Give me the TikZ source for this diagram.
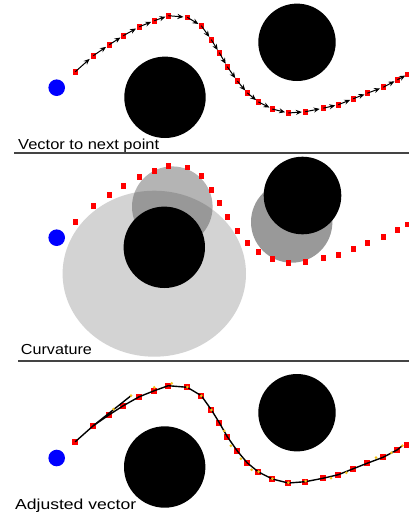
\documentclass[tikz,border=0pt]{standalone}
\usepackage{fontspec}
\usepackage{graphicx}
\setmainfont{Liberation Sans}
\usetikzlibrary{calc,arrows.meta}
\definecolor{sepgray}{HTML}{444444}
\definecolor{dotyellow}{HTML}{F2C21B}
\definecolor{lightdisc}{HTML}{D3D3D3}
\begin{document}
\begin{tikzpicture}[x=1pt,y=-1pt,
  sq/.style={fill=red,draw=none,minimum size=5.6pt,inner sep=0pt,outer sep=0pt},
  sqb/.style={sq,minimum size=6pt},
  arr/.style={-{Stealth[length=6pt,width=5pt]},line width=1pt,black},
  adj/.style={line width=1.4pt,black,line join=round,line cap=round},
  ydot/.style={circle,fill=dotyellow,draw=none,minimum size=3pt,inner sep=0pt},
  obst/.style={circle,fill=black,draw=none,inner sep=0pt},
  start/.style={circle,fill=blue,draw=none,inner sep=0pt,minimum size=16.6pt},
  sep/.style={draw=sepgray,line width=2pt},
  lbl/.style={anchor=base west,inner sep=0pt,font=\fontsize{14.5}{16}\selectfont}]
\useasboundingbox (0,0) rectangle (409,515);

% path points
\foreach \px/\py [count=\i] in {75.3/71.7, 93.3/55.7, 109.3/44.7, 123.3/35.7, 139.3/26.7,
  154.3/20.7, 168.3/15.7, 187.3/17.3, 201.3/25.7, 211.3/39.7, 219.3/52.7, 227.3/66.7,
  237.3/81.0, 247.3/92.9, 258.3/101.9, 272.3/109.0, 288.3/113.0, 305.3/111.7, 323.3/108.2,
  338.3/104.7, 353.3/98.7, 367.3/93.2, 383.3/87.2, 397.3/79.8, 407.3/74.5} {
  \coordinate (A\i) at (\px,\py);
  \coordinate (B\i) at (\px,{\py+150});
  \coordinate (C\i) at (\px,{\py+370});
}

% ---------- panel 1 ----------
\node[start] (s1) at (56.7,87.7) {};
\node[obst,minimum size=81.4pt] (o11) at (165,97.3) {};
\node[obst,minimum size=77.4pt] (o12) at (297,42.3) {};
\foreach \i in {1,...,25} { \node[sq] (sa\i) at (A\i) {}; }
\foreach \i in {1,...,24} {
  \pgfmathtruncatemacro{\j}{\i+1}
  \draw[arr] (A\i) -- ($(A\i)!0.8!(A\j)$);
}
\node[lbl] (t1) at (18,149) {\resizebox{141pt}{\height}{Vector to next point}};
\coordinate (l1a) at (14,152.5);
\coordinate (l1b) at (409,152.5);
\draw[sep] (l1a) -- (l1b);

% ---------- panel 2 ----------
\node[start] (s2) at (56.7,237.7) {};
\fill[lightdisc] (154.3,273.7) ellipse [x radius=91.7pt, y radius=83pt];
\fill[black!76,opacity=0.39] (172.3,206.7) circle [radius=40.3pt];
\fill[black!80,opacity=0.5] (291.7,222) circle [radius=40.7pt];
\node[obst,minimum size=81.4pt] (o21) at (164.3,247.3) {};
\node[obst,minimum size=77.6pt] (o22) at (302.5,195.5) {};
\foreach \i in {1,...,25} { \node[sq] (sb\i) at (B\i) {}; }
\node[lbl] (t2) at (20.7,354.5) {\resizebox{71pt}{\height}{Curvature}};
\coordinate (l2a) at (18,361);
\coordinate (l2b) at (409,361);
\draw[sep] (l2a) -- (l2b);

% ---------- panel 3 ----------
\node[start] (s3) at (56.7,458) {};
\node[obst,minimum size=81.4pt] (o31) at (164.7,467) {};
\node[obst,minimum size=77.4pt] (o32) at (297,412.7) {};
\foreach \px/\py [count=\i] in {113.5/409, 131/395.7, 154.2/387.3, 171.7/383.3, 187.3/387,
  201.3/395.8, 211.3/410, 224.2/430.8, 230.9/445.8, 240.8/458.7, 251.7/469.7, 258.7/471.7,
  272.3/478.7, 288.3/482.7, 305.6/481, 331/478, 346.3/472.7, 376/457.7, 391.3/452.7, 402.3/445.7} {
  \coordinate (Y\i) at (\px,\py);
}
\foreach \i in {1,...,25} { \node[sqb] (sc\i) at (C\i) {}; }
\draw[adj] (C1) \foreach \i in {2,...,24} { -- (C\i) } -- (Y20);
\draw[adj] (C2) -- (Y2);
\foreach \i in {1,...,20} { \node[ydot] (yd\i) at (Y\i) {}; }
\node[lbl] (t3) at (15,509.3) {\resizebox{121pt}{\height}{Adjusted vector}};
\end{tikzpicture}
\end{document}
